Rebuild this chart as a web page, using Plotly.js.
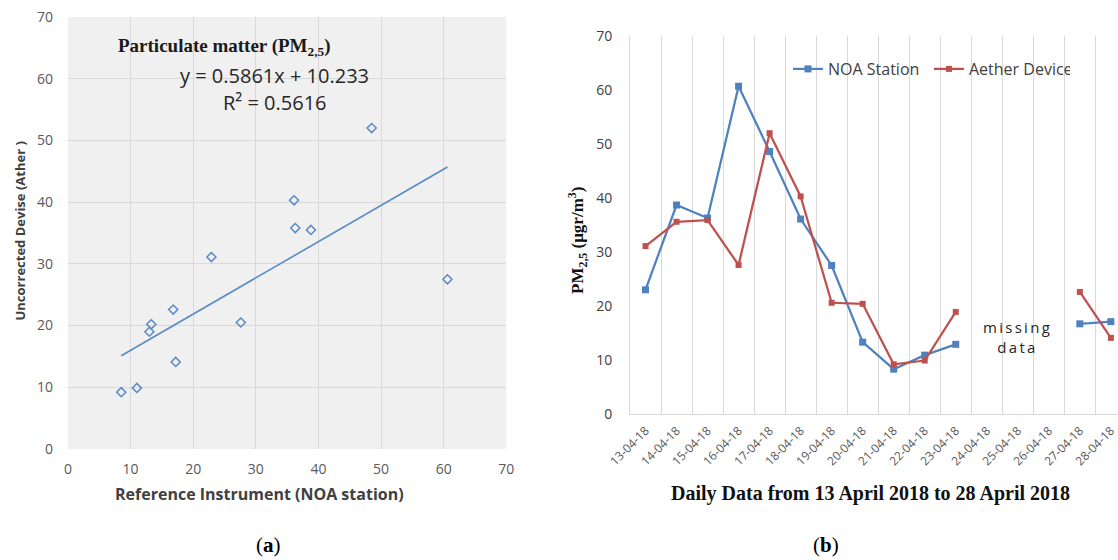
<!DOCTYPE html>
<html>
<head>
<meta charset="utf-8">
<script src="https://cdn.plot.ly/plotly-3.0.1.min.js"></script>
<style>
html,body{margin:0;padding:0;background:#fff;}
#chart{width:1118px;height:560px;}
</style>
</head>
<body>
<div id="chart"></div>
<script>
// ---- Panel (a): scatter, reference vs uncorrected device ----
const refNOA   = [8.5, 11.0, 13.0, 13.3, 16.8, 17.2, 22.9, 27.6, 36.1, 36.3, 38.8, 48.5, 60.6];
const aetherRaw = [9.2, 9.9, 19.0, 20.2, 22.6, 14.1, 31.1, 20.5, 40.3, 35.8, 35.5, 52.0, 27.5];
const trendX = [8.5, 60.6];
const trendY = [15.1, 45.7];
const axisTicksA = [0, 10, 20, 30, 40, 50, 60, 70];

// ---- Panel (b): daily series ----
const dates = ['13-04-18','14-04-18','15-04-18','16-04-18','17-04-18','18-04-18','19-04-18','20-04-18',
               '21-04-18','22-04-18','23-04-18','24-04-18','25-04-18','26-04-18','27-04-18','28-04-18'];
const noaStation   = [23.0, 38.7, 36.3, 60.7, 48.6, 36.1, 27.5, 13.3, 8.3, 10.9, 12.9, null, null, null, 16.7, 17.1];
const aetherDevice = [31.1, 35.6, 35.9, 27.6, 52.0, 40.3, 20.6, 20.4, 9.2, 9.9, 18.9, null, null, null, 22.6, 14.1];
const axisTicksB = [0, 10, 20, 30, 40, 50, 60, 70];

const BLUE = '#4f81bd', RED = '#c0504d', GRID = '#d9d9d9';
const W = 1118, H = 560;
const px = v => v / W, py = v => 1 - v / H;

const traces = [
  { x: refNOA, y: aetherRaw, type: 'scatter', mode: 'markers', xaxis: 'x', yaxis: 'y',
    marker: { symbol: 'diamond-open', size: 7, color: '#5a8ac6', line: { width: 1.5, color: '#5a8ac6' } },
    showlegend: false, hoverinfo: 'x+y' },
  { x: trendX, y: trendY, type: 'scatter', mode: 'lines', xaxis: 'x', yaxis: 'y',
    line: { color: '#5a8ac6', width: 1.6 }, showlegend: false, hoverinfo: 'skip' },
  { x: dates, y: noaStation, name: 'NOA Station', type: 'scatter', mode: 'lines+markers',
    xaxis: 'x2', yaxis: 'y2', connectgaps: false,
    line: { color: BLUE, width: 2.25 }, marker: { symbol: 'square', size: 7, color: BLUE } },
  { x: dates, y: aetherDevice, name: 'Aether Device', type: 'scatter', mode: 'lines+markers',
    xaxis: 'x2', yaxis: 'y2', connectgaps: false,
    line: { color: RED, width: 2.25 }, marker: { symbol: 'square', size: 6, color: RED } }
];

const tickFont = { family: 'Open Sans, sans-serif', size: 14, color: '#595959' };
const serifB = 'Liberation Serif, Times New Roman, serif';

const layout = {
  width: W, height: H,
  margin: { l: 0, r: 0, t: 0, b: 0, autoexpand: false },
  paper_bgcolor: '#ffffff',
  showlegend: true,
  legend: {
    orientation: 'h', x: px(788), y: py(69), xanchor: 'left', yanchor: 'middle',
    font: { family: 'Open Sans, sans-serif', size: 16, color: '#404040' },
    bgcolor: 'rgba(0,0,0,0)', entrywidth: 96, entrywidthmode: 'pixels', itemwidth: 30
  },
  xaxis: {
    domain: [px(68), px(506.3)], range: [0, 70], tickvals: axisTicksA,
    showgrid: true, gridcolor: GRID, gridwidth: 1, zeroline: false, showline: false,
    ticks: '', tickfont: tickFont, ticklabelstandoff: 10, anchor: 'y', automargin: false
  },
  yaxis: {
    domain: [py(449), py(17)], range: [0, 70], tickvals: axisTicksA,
    showgrid: true, gridcolor: GRID, gridwidth: 1, zeroline: false, showline: false,
    ticks: '', tickfont: tickFont, ticklabelstandoff: 14, anchor: 'x', automargin: false
  },
  xaxis2: {
    domain: [px(630), 1], type: 'category', categoryorder: 'array', categoryarray: dates,
    range: [-0.5, 15.23], tickson: 'boundaries', ticks: '',
    showgrid: true, gridcolor: GRID, gridwidth: 1, showline: true, linecolor: GRID, linewidth: 1,
    tickangle: -45, tickfont: { family: 'Open Sans, sans-serif', size: 12, color: '#595959' },
    ticklabelstandoff: 4, anchor: 'y2', automargin: false
  },
  yaxis2: {
    domain: [py(414), py(36)], range: [0, 70], tickvals: axisTicksB,
    showgrid: false, zeroline: false, showline: true, linecolor: GRID, linewidth: 1,
    ticks: '', tickfont: { family: 'Open Sans, sans-serif', size: 14, color: '#404040' },
    ticklabelstandoff: 14, anchor: 'x2', automargin: false
  },
  shapes: [
    { type: 'rect', xref: 'x domain', yref: 'y domain', x0: 0, x1: 1, y0: 0, y1: 1,
      fillcolor: '#f0f0f0', line: { width: 0 }, layer: 'below' }
  ],
  annotations: [
    { text: '<b>Particulate matter (PM<sub>2,5</sub>)</b>', xref: 'paper', yref: 'paper',
      x: px(224), y: py(46.7), showarrow: false, xanchor: 'center', yanchor: 'middle',
      font: { family: serifB, size: 19, color: '#1a1a1a' } },
    { text: 'y = 0.5861x + 10.233', xref: 'paper', yref: 'paper',
      x: px(274.3), y: py(76), showarrow: false, xanchor: 'center', yanchor: 'middle',
      font: { family: 'Open Sans, sans-serif', size: 20, color: '#262626' } },
    { text: 'R² = 0.5616', xref: 'paper', yref: 'paper',
      x: px(275), y: py(102.5), showarrow: false, xanchor: 'center', yanchor: 'middle',
      font: { family: 'Open Sans, sans-serif', size: 20, color: '#262626' } },
    { text: '<b>Reference Instrument (NOA station)</b>', xref: 'paper', yref: 'paper',
      x: px(259), y: py(494), showarrow: false, xanchor: 'center', yanchor: 'middle',
      font: { family: 'Open Sans, sans-serif', size: 16, color: '#404040' } },
    { text: '<b>Uncorrected Devise (Ather )</b>', xref: 'paper', yref: 'paper', textangle: -90,
      x: px(19), y: py(231.5), showarrow: false, xanchor: 'center', yanchor: 'middle',
      font: { family: 'Open Sans, sans-serif', size: 13, color: '#404040' } },
    { text: 'missing<br>data', xref: 'paper', yref: 'paper',
      x: px(1017), y: py(337.2), showarrow: false, xanchor: 'center', yanchor: 'middle',
      font: { family: 'Open Sans, sans-serif', size: 15, color: '#262626' } },
    { text: '<b>PM<sub>2,5</sub> (μgr/m<sup>3</sup>)</b>', xref: 'paper', yref: 'paper', textangle: -90,
      x: px(577), y: py(241), showarrow: false, xanchor: 'center', yanchor: 'middle',
      font: { family: serifB, size: 17, color: '#111111' } },
    { text: '<b>Daily Data from 13 April 2018 to 28 April 2018</b>', xref: 'paper', yref: 'paper',
      x: px(870), y: py(493), showarrow: false, xanchor: 'center', yanchor: 'middle',
      font: { family: serifB, size: 20, color: '#111111' } },
    { text: '(<b>a</b>)', xref: 'paper', yref: 'paper',
      x: px(268), y: py(545), showarrow: false, xanchor: 'center', yanchor: 'middle',
      font: { family: serifB, size: 21, color: '#000000' } },
    { text: '(<b>b</b>)', xref: 'paper', yref: 'paper',
      x: px(826), y: py(545), showarrow: false, xanchor: 'center', yanchor: 'middle',
      font: { family: serifB, size: 21, color: '#000000' } }
  ]
};

Plotly.newPlot('chart', traces, layout, { displayModeBar: false, staticPlot: true }).then(gd => {
  gd.querySelectorAll('.annotation-text').forEach(t => {
    if (t.textContent.indexOf('missing') === 0) t.style.letterSpacing = '2.3px';
  });
});
</script>
</body>
</html>
